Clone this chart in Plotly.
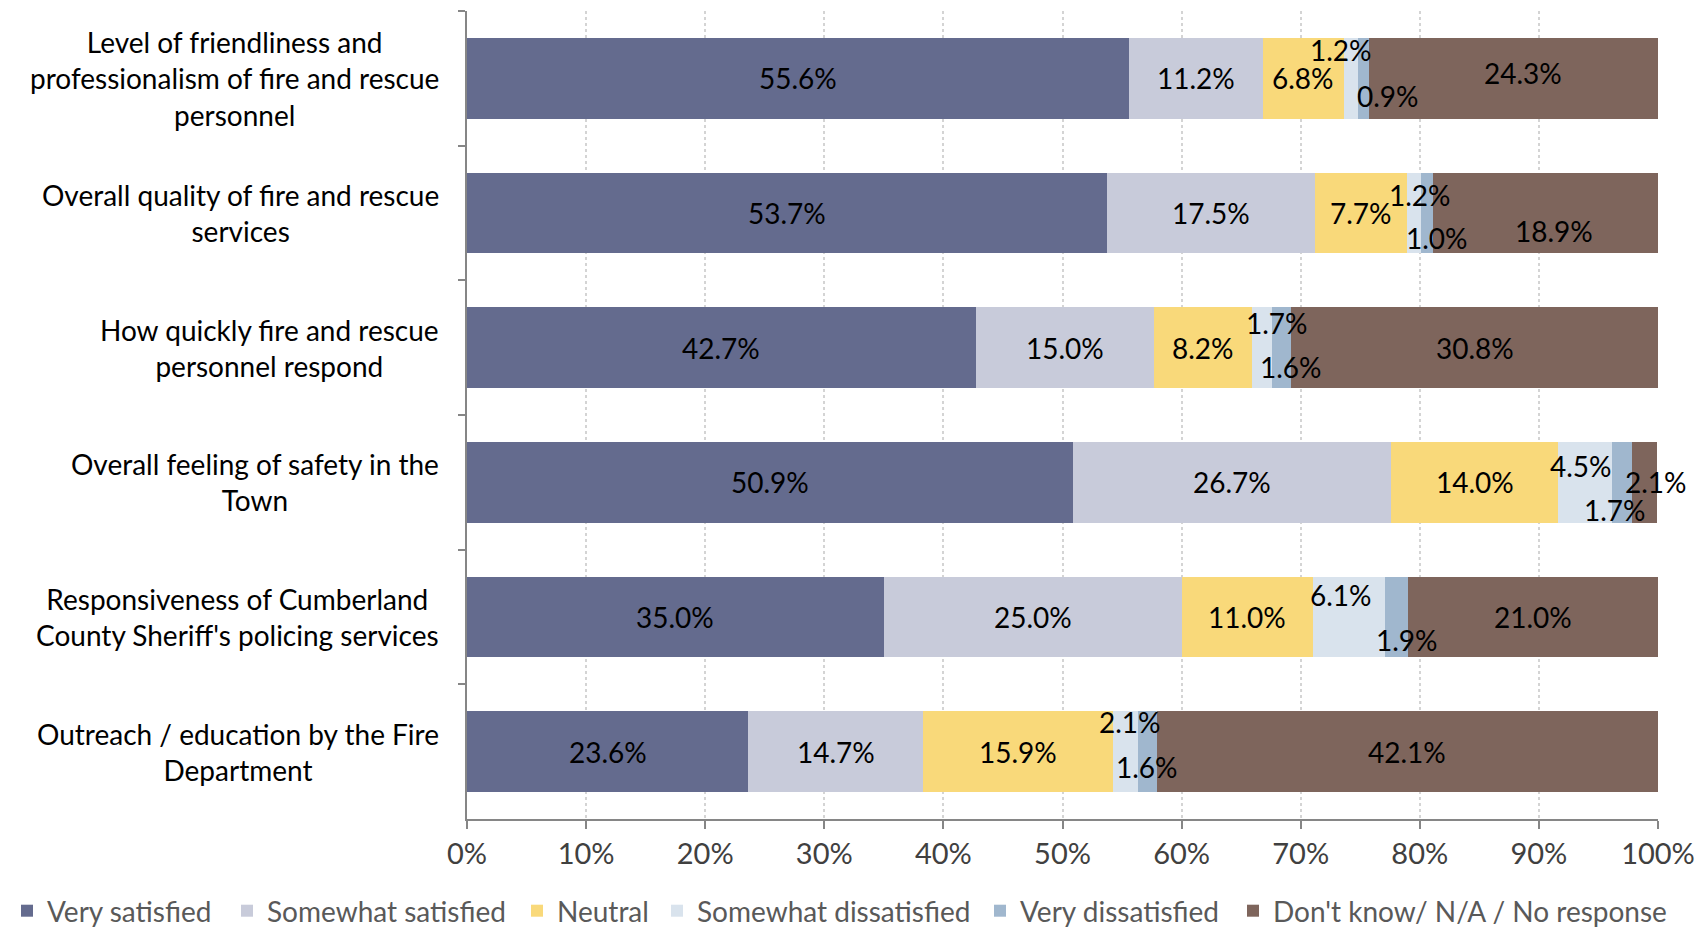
import plotly.graph_objects as go

# Survey items (top to bottom)
categories = [
    "Level of friendliness and<br>professionalism of fire and rescue<br>personnel",
    "Overall quality of fire and rescue<br>services",
    "How quickly fire and rescue<br>personnel respond",
    "Overall feeling of safety in the<br>Town",
    "Responsiveness of Cumberland<br>County Sheriff's policing services",
    "Outreach / education by the Fire<br>Department",
]

# Response shares in percent, one list per answer
very_satisfied = [55.6, 53.7, 42.7, 50.9, 35.0, 23.6]
somewhat_satisfied = [11.2, 17.5, 15.0, 26.7, 25.0, 14.7]
neutral = [6.8, 7.7, 8.2, 14.0, 11.0, 15.9]
somewhat_dissatisfied = [1.2, 1.2, 1.7, 4.5, 6.1, 2.1]
very_dissatisfied = [0.9, 1.0, 1.6, 1.7, 1.9, 1.6]
dont_know = [24.3, 18.9, 30.8, 2.1, 21.0, 42.1]

series_names = [
    "Very satisfied",
    "Somewhat satisfied",
    "Neutral",
    "Somewhat dissatisfied",
    "Very dissatisfied",
    "Don't know/ N/A / No response",
]
series_values = [very_satisfied, somewhat_satisfied, neutral,
                 somewhat_dissatisfied, very_dissatisfied, dont_know]
colors = ["#646B8E", "#C8CBDA", "#F9D97A", "#D9E3ED", "#A0B7CE", "#7E655C"]

x_tick_vals = [0, 10, 20, 30, 40, 50, 60, 70, 80, 90, 100]
x_tick_text = [f"{v}%" for v in x_tick_vals]

FONT = "Lato"
W, H = 1702, 930

# Pixel nudges (dx, dy) for value labels, keyed by (series index, row index).
# The two narrow dissatisfied segments get one label above and one below the bar.
label_nudge = {
    (3, 0): (-10, 28), (3, 1): (6, 18), (3, 2): (15, 25),
    (3, 3): (-4, 16), (3, 4): (-8, 22), (3, 5): (5, 30),
    (4, 0): (25, -18), (4, 1): (10, -25), (4, 2): (9, -19),
    (4, 3): (-7, -28), (4, 4): (10, -23), (4, 5): (0, -15),
    (5, 0): (10, 5), (5, 1): (9, -18), (5, 3): (12, 0),
}

# Left edge (px) of each legend entry's text along the bottom row
legend_text_left = [47, 267, 557, 697, 1020, 1273]
LEGEND_TEXT_OFFSET = 40

fig = go.Figure()
for i, (name, vals, col) in enumerate(zip(series_names, series_values, colors)):
    fig.add_trace(go.Bar(
        name=name, y=categories, x=vals, orientation="h",
        marker=dict(color=col, line=dict(width=0)),
        hoverinfo="x+name",
        legend="legend" if i == 0 else f"legend{i + 1}",
    ))

annotations = []
cum = [0.0] * len(categories)
for si, vals in enumerate(series_values):
    for ri, v in enumerate(vals):
        dx, dy = label_nudge.get((si, ri), (0, 0))
        annotations.append(dict(
            x=cum[ri] + v / 2, y=categories[ri], xref="x", yref="y",
            text=f"{v:.1f}%", showarrow=False, xshift=dx, yshift=dy,
            font=dict(family=FONT, size=28, color="#000000"),
        ))
        cum[ri] += v

# Category labels: centred lines, right edge aligned next to the axis
for cat in categories:
    annotations.append(dict(
        x=0, y=cat, xref="paper", yref="y", xanchor="right", xshift=-26,
        align="center", text=cat, showarrow=False,
        font=dict(family=FONT, size=28, color="#000000"),
    ))

legends = {}
for i, left in enumerate(legend_text_left):
    key = "legend" if i == 0 else f"legend{i + 1}"
    legends[key] = dict(
        orientation="h", xref="container", yref="container",
        x=(left - LEGEND_TEXT_OFFSET) / W, xanchor="left",
        y=(H - 911) / H, yanchor="middle",
        font=dict(family=FONT, size=28, color="#595959"),
        itemwidth=30, bgcolor="rgba(0,0,0,0)", borderwidth=0,
    )

fig.update_layout(
    barmode="stack",
    bargap=0.4,
    width=W, height=H,
    margin=dict(l=467, r=44, t=11, b=111, autoexpand=False),
    paper_bgcolor="white", plot_bgcolor="white",
    font=dict(family=FONT, size=28, color="#404040"),
    annotations=annotations,
    showlegend=True,
    xaxis=dict(
        range=[0, 100], tickvals=x_tick_vals, ticktext=x_tick_text,
        showgrid=True, gridcolor="#D4D4D4", griddash="3px,3px", gridwidth=1.5,
        showline=True, linecolor="#868686", linewidth=2,
        ticks="outside", ticklen=8, tickcolor="#868686", tickwidth=2,
        zeroline=False, fixedrange=True,
        tickfont=dict(family=FONT, size=29, color="#404040"),
    ),
    yaxis=dict(
        type="category", autorange="reversed",
        showticklabels=False, tickson="boundaries",
        ticks="outside", ticklen=7, tickcolor="#868686", tickwidth=2,
        showline=True, linecolor="#868686", linewidth=2,
        showgrid=False, zeroline=False, fixedrange=True,
    ),
    **legends,
)

fig.write_html("out.html")
